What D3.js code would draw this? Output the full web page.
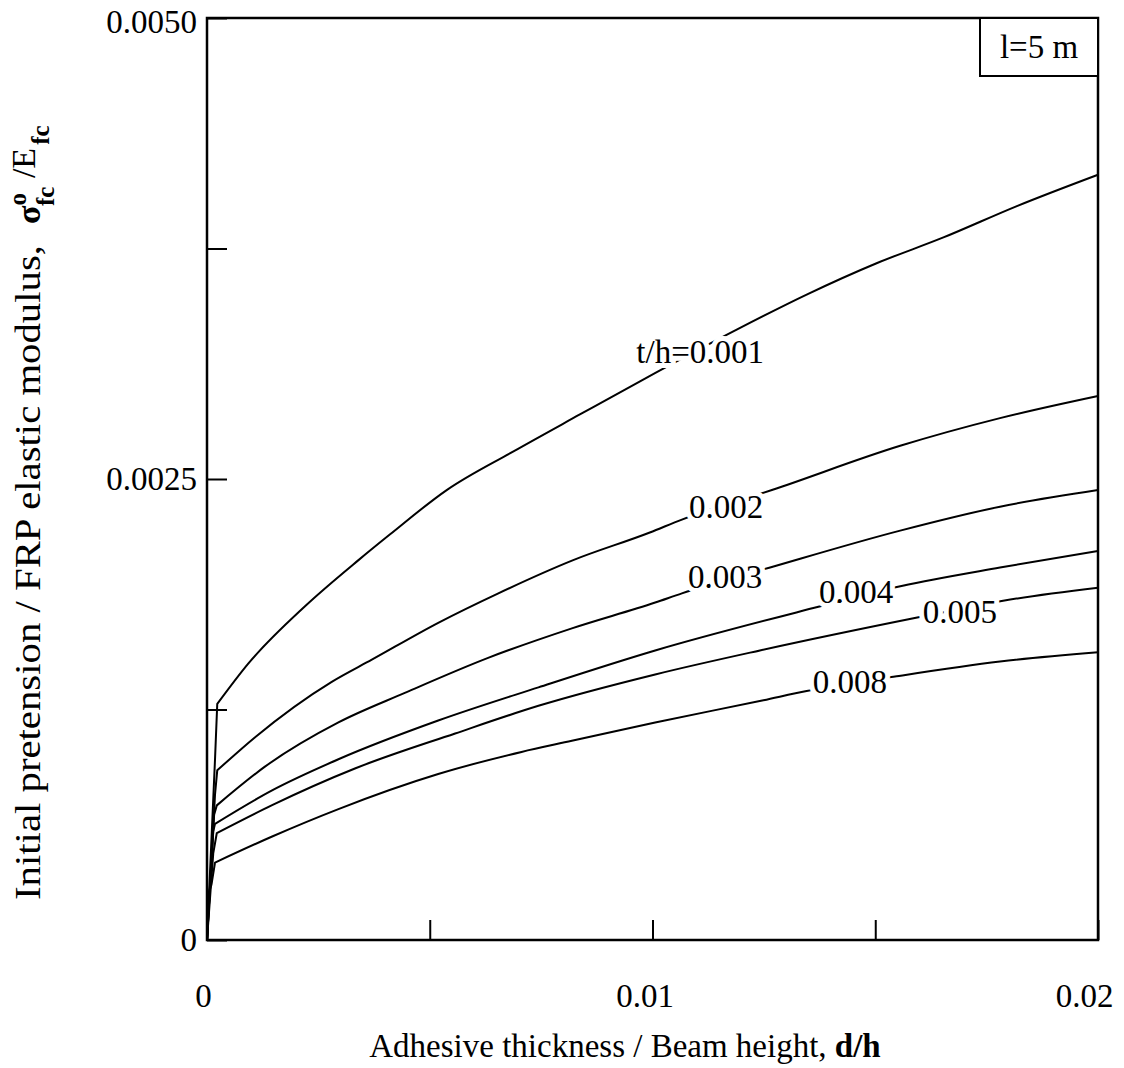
<!DOCTYPE html>
<html>
<head>
<meta charset="utf-8">
<script src="https://cdn.jsdelivr.net/npm/d3@7"></script>
<style>
  body { margin: 0; background: #fff; }
  svg { font-family: "Liberation Serif", "Times New Roman", serif; }
</style>
</head>
<body>
<svg width="1124" height="1068"></svg>
<script>
// values: [d/h, sigma/E]
let curve001 = [[0, 0], [0.00018, 0.00098], [0.00023, 0.00128], [0.00093, 0.0015], [0.0022, 0.00181],
  [0.0034, 0.00206], [0.00411, 0.0022], [0.00538, 0.00244], [0.00688, 0.00265], [0.00837, 0.00285],
  [0.00972, 0.00303], [0.01189, 0.00331], [0.01346, 0.0035], [0.01503, 0.00367], [0.01653, 0.00381],
  [0.01818, 0.00398], [0.02, 0.00415]];
let curve002 = [[0, 0], [0.00018, 0.00079], [0.00023, 0.00092], [0.00108, 0.0011], [0.0028, 0.0014],
  [0.0037, 0.00152], [0.00519, 0.00172], [0.00654, 0.00188], [0.00822, 0.00206], [0.00994, 0.00221],
  [0.01066, 0.00228], [0.01268, 0.00244], [0.01556, 0.00268], [0.0178, 0.00283], [0.02, 0.00295]];
let curve003 = [[0, 0], [0.00016, 0.00068], [0.00022, 0.00073], [0.0013, 0.00094], [0.00295, 0.00118],
  [0.00444, 0.00134], [0.00631, 0.00153], [0.00819, 0.00169], [0.01006, 0.00183], [0.01066, 0.00188],
  [0.01264, 0.00202], [0.01556, 0.00222], [0.0178, 0.00235], [0.02, 0.00244]];
let curve004 = [[0, 0], [0.00014, 0.00059], [0.00018, 0.00063], [0.00145, 0.00081], [0.00295, 0.00098],
  [0.00519, 0.00119], [0.00744, 0.00137], [0.01006, 0.00157], [0.01361, 0.0018], [0.01559, 0.00192],
  [0.0178, 0.00202], [0.02, 0.00211]];
let curve005 = [[0, 0], [0.00014, 0.00047], [0.00022, 0.00058], [0.00145, 0.00073], [0.00332, 0.00093],
  [0.00557, 0.00112], [0.00744, 0.00127], [0.01006, 0.00144], [0.01241, 0.00157], [0.01597, 0.00175],
  [0.01787, 0.00184], [0.02, 0.00191]];
let curve008 = [[0, 0], [0.00003, 0.00025], [0.0001, 0.0003], [0.00018, 0.00042], [0.00145, 0.00056],
  [0.00295, 0.00071], [0.00519, 0.0009], [0.00706, 0.00102], [0.00819, 0.00108], [0.01006, 0.00118],
  [0.01249, 0.0013], [0.01346, 0.00135], [0.01548, 0.00143], [0.0178, 0.00151], [0.02, 0.00156]];

let curves = [curve001, curve002, curve003, curve004, curve005, curve008];
let curveLabels = ["t/h=0.001", "0.002", "0.003", "0.004", "0.005", "0.008"];
// where each label sits, in data units (centre x, baseline y)
let labelAt = [[0.01107, 0.00313], [0.01165, 0.00229], [0.01163, 0.00191], [0.01457, 0.00183],
  [0.0169, 0.00172], [0.01443, 0.00134]];

let xTicks = [0, 0.005, 0.01, 0.015, 0.02];
let xTickLabels = ["0", "", "0.01", "", "0.02"];
let yTicks = [0, 0.00125, 0.0025, 0.00375, 0.005];
let yTickLabels = ["0", "", "0.0025", "", "0.0050"];

let svg = d3.select("svg");

let m = { left: 207, top: 18, right: 26, bottom: 128 };
let w = 1124 - m.left - m.right;
let h = 1068 - m.top - m.bottom;

let x = d3.scaleLinear().domain([0, 0.02]).range([0, w]);
let y = d3.scaleLinear().domain([0, 0.005]).range([h, 0]);

let g = svg.append("g").attr("transform", `translate(${m.left},${m.top})`);

// x axis, ticks pointing up into the plot
let xAxis = g.append("g")
  .attr("transform", `translate(0,${h})`)
  .call(d3.axisBottom(x).tickValues(xTicks).tickSize(-20).tickPadding(44)
    .tickFormat((d, i) => xTickLabels[i]));

// y axis, ticks pointing right into the plot
let yAxis = g.append("g")
  .call(d3.axisLeft(y).tickValues(yTicks).tickSize(-20).tickPadding(10)
    .tickFormat((d, i) => yTickLabels[i]));

[xAxis, yAxis].forEach(a => {
  a.select(".domain").remove();
  a.selectAll("line").attr("stroke", "#000").attr("stroke-width", 2);
  a.selectAll("text").attr("fill", "#000").style("font-size", "33px")
    .style("font-family", '"Liberation Serif", serif');
});
// nudge the edge labels in like the original
xAxis.selectAll("text").attr("dx", (d, i) => (i === 0 ? -4 : i === 4 ? -14 : -8));
yAxis.selectAll("text").attr("dy", (d, i) => (i === 4 ? "0.45em" : "0.32em"));

// frame
g.append("rect")
  .attr("width", w).attr("height", h)
  .attr("fill", "none").attr("stroke", "#000").attr("stroke-width", 2.5);

// steep start near the axis is straight, the rest is smooth
let kinkX = 0.00025;
let headLine = d3.line().x(d => x(d[0])).y(d => y(d[1]));
let tailLine = d3.line().x(d => x(d[0])).y(d => y(d[1])).curve(d3.curveMonotoneX);

let cg = g.selectAll("g.curve")
  .data(curves)
  .join("g")
  .attr("class", "curve");

cg.append("path")
  .attr("d", d => {
    let head = d.filter(p => p[0] <= kinkX);
    let tail = d.slice(head.length - 1);
    return headLine(head) + "L" + tailLine(tail).slice(1);
  })
  .attr("fill", "none")
  .attr("stroke", "#000")
  .attr("stroke-width", 2)
  .attr("stroke-linejoin", "round");

g.selectAll("text.clabel")
  .data(curveLabels)
  .join("text")
  .attr("class", "clabel")
  .attr("x", (d, i) => x(labelAt[i][0]))
  .attr("y", (d, i) => y(labelAt[i][1]))
  .attr("text-anchor", "middle")
  .style("font-size", "33px")
  .attr("stroke", "#fff")
  .attr("stroke-width", 10)
  .attr("paint-order", "stroke")
  .attr("fill", "#000")
  .text(d => d);

// span box
let box = g.append("g").attr("transform", `translate(${w - 118},0)`);
box.append("rect")
  .attr("width", 118).attr("height", 58)
  .attr("fill", "#fff").attr("stroke", "#000").attr("stroke-width", 2);
box.append("text")
  .attr("x", 59).attr("y", 40)
  .attr("text-anchor", "middle")
  .style("font-size", "33px")
  .text("l=5 m");

// axis titles
let xt = svg.append("text")
  .attr("x", 625).attr("y", 1057)
  .attr("text-anchor", "middle")
  .style("font-size", "33px");
xt.append("tspan").text("Adhesive thickness / Beam height,   ");
xt.append("tspan").attr("font-weight", "bold").text("d/h");

svg.append("text")
  .attr("transform", "translate(40,900) rotate(-90)")
  .attr("textLength", 655)
  .attr("lengthAdjust", "spacingAndGlyphs")
  .style("font-size", "36px")
  .text("Initial pretension / FRP elastic modulus,");

let ys = svg.append("text")
  .attr("transform", "translate(40,224) rotate(-90)")
  .style("font-size", "34px");
ys.append("tspan").attr("font-weight", "bold").text("σ");
ys.append("tspan").attr("font-weight", "bold").attr("dy", "-0.55em").style("font-size", "25px").text("o");
ys.append("tspan").attr("font-weight", "bold").attr("dx", "-13").attr("dy", "1.1em").style("font-size", "25px").text("fc");
ys.append("tspan").attr("dy", "-0.55em").text(" /E");
ys.append("tspan").attr("font-weight", "bold").attr("dx", "3").attr("dy", "0.55em").style("font-size", "25px").text("fc");
</script>
</body>
</html>
